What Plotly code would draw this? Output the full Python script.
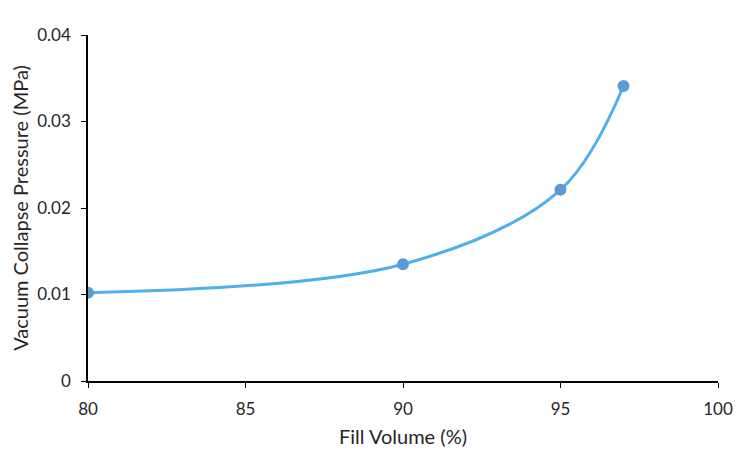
import plotly.graph_objects as go

fill_volume = [80, 90, 95, 97]
collapse_pressure = [0.0102, 0.0135, 0.0221, 0.0341]

x_ticks = [80, 85, 90, 95, 100]
y_ticks = [0, 0.01, 0.02, 0.03, 0.04]
y_tick_labels = ["0", "0.01", "0.02", "0.03", "0.04"]

fig = go.Figure()

# smoothed line, drawn separately so the markers sit on top
fig.add_trace(
    go.Scatter(
        x=fill_volume,
        y=collapse_pressure,
        mode="lines",
        line=dict(color="#4FB0EA", width=3, shape="spline", smoothing=1),
        hoverinfo="skip",
    )
)
fig.add_trace(
    go.Scatter(
        x=fill_volume,
        y=collapse_pressure,
        mode="markers",
        marker=dict(color="#5B9BD5", size=12),
    )
)

# page body adds 8px offset, margins account for it
fig.update_layout(
    width=750,
    height=461,
    showlegend=False,
    plot_bgcolor="white",
    paper_bgcolor="white",
    margin=dict(l=80, r=40, t=27, b=88),
    font=dict(family="Lato, Open Sans, sans-serif", size=17, color="#262626"),
)

fig.update_xaxes(
    range=[80, 100],
    tickvals=x_ticks,
    showgrid=False,
    zeroline=False,
    showline=True,
    linecolor="black",
    linewidth=1.5,
    ticks="outside",
    ticklen=5,
    tickcolor="black",
    ticklabelstandoff=7,
    automargin=False,
    title=dict(text="Fill Volume (%)", font=dict(size=20), standoff=12),
)
fig.update_yaxes(
    range=[0, 0.04],
    tickvals=y_ticks,
    ticktext=y_tick_labels,
    showgrid=False,
    zeroline=False,
    showline=True,
    linecolor="black",
    linewidth=1.5,
    ticks="outside",
    ticklen=5,
    tickcolor="black",
    ticklabelstandoff=7,
    automargin=False,
    title=dict(text="Vacuum Collapse Pressure (MPa)", font=dict(size=20), standoff=6),
)

fig.write_html("out.html")
